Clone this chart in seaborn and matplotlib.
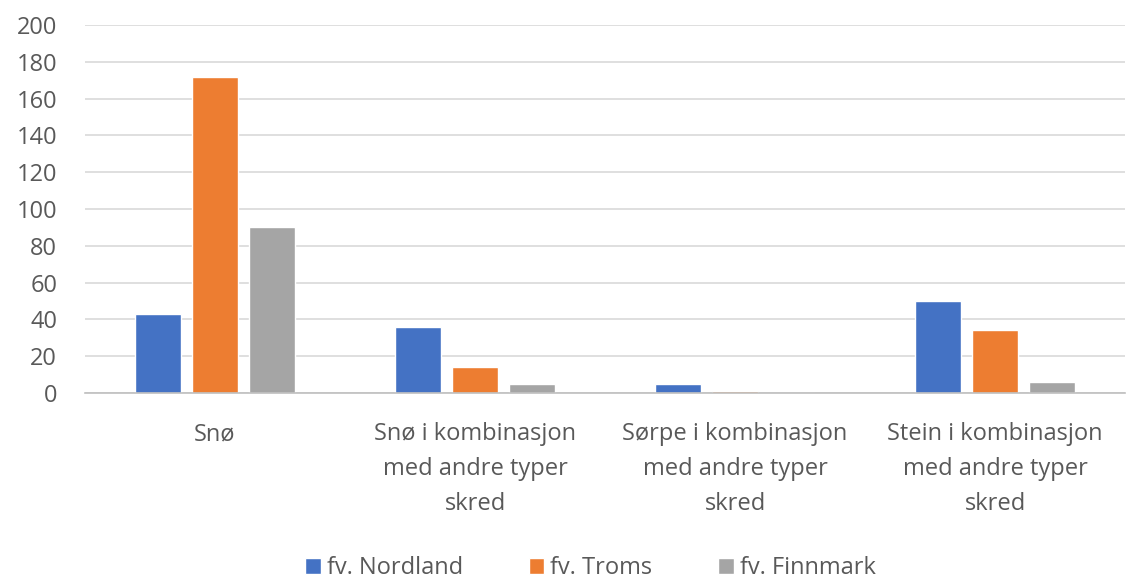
import seaborn as sns
import matplotlib.pyplot as plt
import pandas as pd

sns.set_style(style='white')
plt.rcParams['font.family'] = ['Open Sans', 'DejaVu Sans']

categories = ['Snø',
              'Snø i kombinasjon\nmed andre typer\nskred',
              'Sørpe i kombinasjon\nmed andre typer\nskred',
              'Stein i kombinasjon\nmed andre typer\nskred']
series = ['fv. Nordland', 'fv. Troms', 'fv. Finnmark']
nordland = [43, 36, 5, 50]
troms = [172, 14, 1, 34]
finnmark = [90, 5, 0, 6]
colors = ['#4472C4', '#ED7D31', '#A5A5A5']

rows = []
for name, vals in zip(series, [nordland, troms, finnmark]):
    for cat, v in zip(categories, vals):
        rows.append({'kategori': cat, 'serie': name, 'antall': v})
df = pd.DataFrame(rows)

fig = plt.figure(figsize=(11.41, 5.83), dpi=100)
ax = fig.add_axes([0.0745, 0.326, 0.9115, 0.631])

sns.barplot(data=df, x='kategori', y='antall', hue='serie', palette=colors,
            width=0.66, gap=0.2, ax=ax, legend=True, saturation=1)

ax.set_ylim(0, 200)
ax.set_xlim(-0.5, 3.5)
ax.set_yticks(range(0, 201, 20))
ax.yaxis.grid(True, color='#D9D9D9', linewidth=1.2)
ax.set_axisbelow(True)
for s in ['top', 'right', 'left']:
    ax.spines[s].set_visible(False)
ax.spines['bottom'].set_color('#BFBFBF')
ax.spines['bottom'].set_linewidth(1.2)
ax.tick_params(axis='both', length=0, labelsize=17, labelcolor='#595959')
ax.tick_params(axis='y', pad=20)
ax.tick_params(axis='x', pad=21)
for lab in ax.get_xticklabels():
    lab.set_linespacing(1.6)
ax.set(xlabel='', ylabel='')

leg = ax.legend(loc='center', bbox_to_anchor=(0.486, -0.476), ncol=3,
                frameon=False, fontsize=17, handlelength=0.65, handleheight=0.65,
                handletextpad=0.25, columnspacing=2.8, borderaxespad=0)
for t in leg.get_texts():
    t.set_color('#595959')

fig.savefig('out.png', dpi=100)
